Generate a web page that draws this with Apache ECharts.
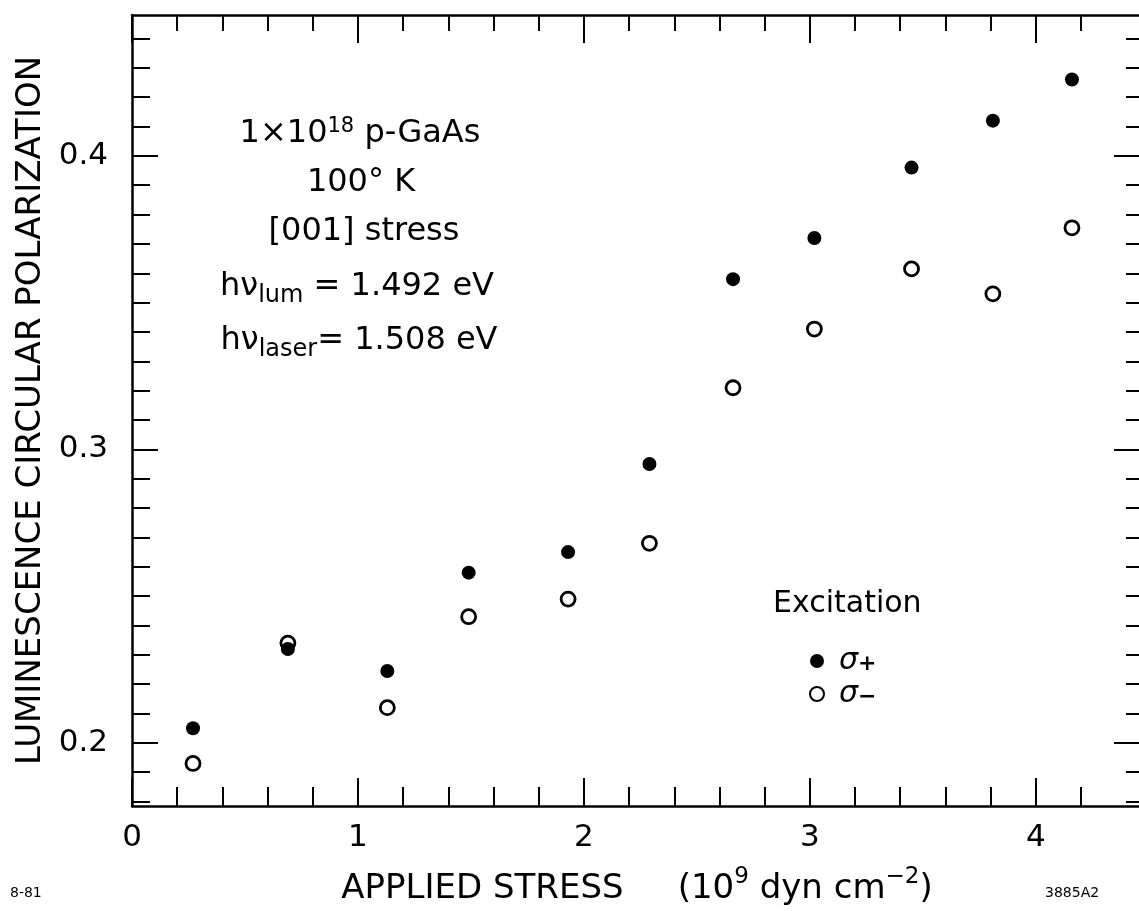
<!DOCTYPE html>
<html><head><meta charset="utf-8">
<script src="https://cdn.jsdelivr.net/npm/echarts@6/dist/echarts.min.js"></script>
<style>html,body{margin:0;padding:0;background:#fff}#c{width:1139px;height:911px}</style>
</head><body><div id="c"></div>
<script>
// ---- data ----
const stress = [0.27, 0.69, 1.13, 1.49, 1.93, 2.29, 2.66, 3.02, 3.45, 3.81, 4.16];
const sigmaPlus = [0.205, 0.232, 0.2245, 0.258, 0.265, 0.295, 0.358, 0.372, 0.396, 0.412, 0.426];
const sigmaMinus = [0.193, 0.234, 0.212, 0.243, 0.249, 0.268, 0.321, 0.341, 0.3615, 0.353, 0.3755];
const seriesNames = ['σ+', 'σ−'];
const xMajorTicks = [0, 1, 2, 3, 4];
const xMinorTicks = [0.2, 0.4, 0.6, 0.8, 1.2, 1.4, 1.6, 1.8, 2.2, 2.4, 2.6, 2.8, 3.2, 3.4, 3.6, 3.8, 4.2];
const yMajorTicks = [0.2, 0.3, 0.4];
const yMinorTicks = [0.18, 0.19, 0.21, 0.22, 0.23, 0.24, 0.25, 0.26, 0.27, 0.28, 0.29,
  0.31, 0.32, 0.33, 0.34, 0.35, 0.36, 0.37, 0.38, 0.39, 0.41, 0.42, 0.43, 0.44];
const xTitle = 'APPLIED STRESS';
const yTitle = 'LUMINESCENCE CIRCULAR POLARIZATION';

const FONT = 'DejaVu Sans';
const X_MIN = 0, X_MAX = 4.47, Y_MIN = 0.1785, Y_MAX = 0.448;
const black = '#000';

function xAxisDef(pos, ticks, len, showLine, label) {
  return {
    type: 'value', position: pos, min: X_MIN, max: X_MAX,
    axisLine: { show: showLine, onZero: false, lineStyle: { color: black, width: 2.5 } },
    axisTick: { show: true, inside: true, length: len, customValues: ticks, lineStyle: { color: black, width: 2 } },
    axisLabel: label ? { show: true, customValues: xMajorTicks, margin: 16, color: black, fontSize: 31, fontFamily: FONT } : { show: false },
    splitLine: { show: false }, minorTick: { show: false }
  };
}
function yAxisDef(pos, ticks, len, showLine, label) {
  return {
    type: 'value', position: pos, min: Y_MIN, max: Y_MAX,
    axisLine: { show: showLine, onZero: false, lineStyle: { color: black, width: 2.5 } },
    axisTick: { show: true, inside: true, length: len, customValues: ticks, lineStyle: { color: black, width: 2 } },
    axisLabel: label ? { show: true, customValues: yMajorTicks, margin: 24, color: black, fontSize: 31, fontFamily: FONT,
      formatter: v => v.toFixed(1) } : { show: false },
    splitLine: { show: false }, minorTick: { show: false }
  };
}

const xa0 = xAxisDef('bottom', xMinorTicks, 19, true, true);
xa0.name = '{n|' + xTitle + '     (10}{sup|9}{n| dyn cm}{sup|−2}{n|)}';
xa0.nameLocation = 'middle';
xa0.nameGap = 60;
xa0.nameTextStyle = {
  color: black, fontFamily: FONT,
  rich: {
    n: { fontSize: 34, fontFamily: FONT, color: black, verticalAlign: 'bottom', lineHeight: 40 },
    sup: { fontSize: 23, fontFamily: FONT, color: black, verticalAlign: 'top', lineHeight: 40 }
  }
};
const ya0 = yAxisDef('left', yMinorTicks, 18, true, true);
ya0.name = yTitle;
ya0.nameLocation = 'middle';
ya0.nameGap = 78;
ya0.nameTextStyle = { color: black, fontSize: 34, fontFamily: FONT };

const option = {
  backgroundColor: '#fff',
  animation: false,
  grid: { left: 132, top: 15, right: -3, bottom: 105, containLabel: false, outerBoundsMode: 'none', show: false },
  xAxis: [
    xa0,
    xAxisDef('bottom', xMajorTicks, 28, false, false),
    xAxisDef('top', xMinorTicks, 16, true, false),
    xAxisDef('top', xMajorTicks, 28, false, false)
  ],
  yAxis: [
    ya0,
    yAxisDef('left', yMajorTicks, 26, false, false),
    yAxisDef('right', yMinorTicks, 16, true, false),
    yAxisDef('right', yMajorTicks, 28, false, false)
  ],
  legend: {
    orient: 'vertical', left: 804, top: 638, itemGap: 0, itemWidth: 14, itemHeight: 14,
    data: [seriesNames[0], seriesNames[1]],
    formatter: name => '{s|σ}{b|' + name.slice(1) + '}',
    textStyle: {
      color: black, lineHeight: 28,
      rich: {
        s: { fontSize: 30, fontStyle: 'italic', fontFamily: FONT, color: black, padding: [0, 0, 0, 10], lineHeight: 28 },
        b: { fontSize: 22, fontWeight: 'bold', fontFamily: FONT, color: black, verticalAlign: 'bottom', lineHeight: 22, padding: [10, 0, 0, 0] }
      }
    }
  },
  graphic: [
    { type: 'text', left: 773, top: 589, style: { text: 'Excitation', fontSize: 30, fontFamily: FONT, fill: black } },
    { type: 'text', x: 360, y: 134, style: { text: '{n|1×10}{sup|18}{n| p-GaAs}', align: 'center', verticalAlign: 'middle',
      rich: { n: { fontSize: 32, fontFamily: FONT, fill: black, lineHeight: 36 }, sup: { fontSize: 21, fontFamily: FONT, fill: black, verticalAlign: 'top', lineHeight: 36, padding: [0, 0, 20, 0] } } } },
    { type: 'text', x: 361, y: 183, style: { text: '100° K', align: 'center', verticalAlign: 'middle', fontSize: 32, fontFamily: FONT, fill: black } },
    { type: 'text', x: 364, y: 232, style: { text: '[001] stress', align: 'center', verticalAlign: 'middle', fontSize: 32, fontFamily: FONT, fill: black } },
    { type: 'text', x: 357, y: 287, style: { text: '{n|hν}{sub|lum}{n| = 1.492 eV}', align: 'center', verticalAlign: 'middle',
      rich: { n: { fontSize: 32, fontFamily: FONT, fill: black, lineHeight: 36 }, sub: { fontSize: 24, fontFamily: FONT, fill: black, padding: [18, 0, 0, 0] } } } },
    { type: 'text', x: 359, y: 341, style: { text: '{n|hν}{sub|laser}{n|= 1.508 eV}', align: 'center', verticalAlign: 'middle',
      rich: { n: { fontSize: 32, fontFamily: FONT, fill: black, lineHeight: 36 }, sub: { fontSize: 24, fontFamily: FONT, fill: black, padding: [18, 0, 0, 0] } } } },
    { type: 'text', left: 10, top: 886, style: { text: '8-81', fontSize: 14, fontFamily: FONT, fill: black } },
    { type: 'text', left: 1045, top: 886, style: { text: '3885A2', fontSize: 14, fontFamily: FONT, fill: black } }
  ],
  series: [
    {
      name: seriesNames[1], type: 'scatter', symbol: 'circle', symbolSize: 14,
      data: stress.map((x, i) => [x, sigmaMinus[i]]),
      itemStyle: { color: 'rgba(0,0,0,0)', borderColor: black, borderWidth: 2.8, opacity: 1 }
    },
    {
      name: seriesNames[0], type: 'scatter', symbol: 'circle', symbolSize: 14,
      data: stress.map((x, i) => [x, sigmaPlus[i]]),
      itemStyle: { color: black, opacity: 1 }
    }
  ]
};
const chart = echarts.init(document.getElementById('c'), null, { renderer: 'canvas' });
chart.setOption(option);
</script>
</body></html>
